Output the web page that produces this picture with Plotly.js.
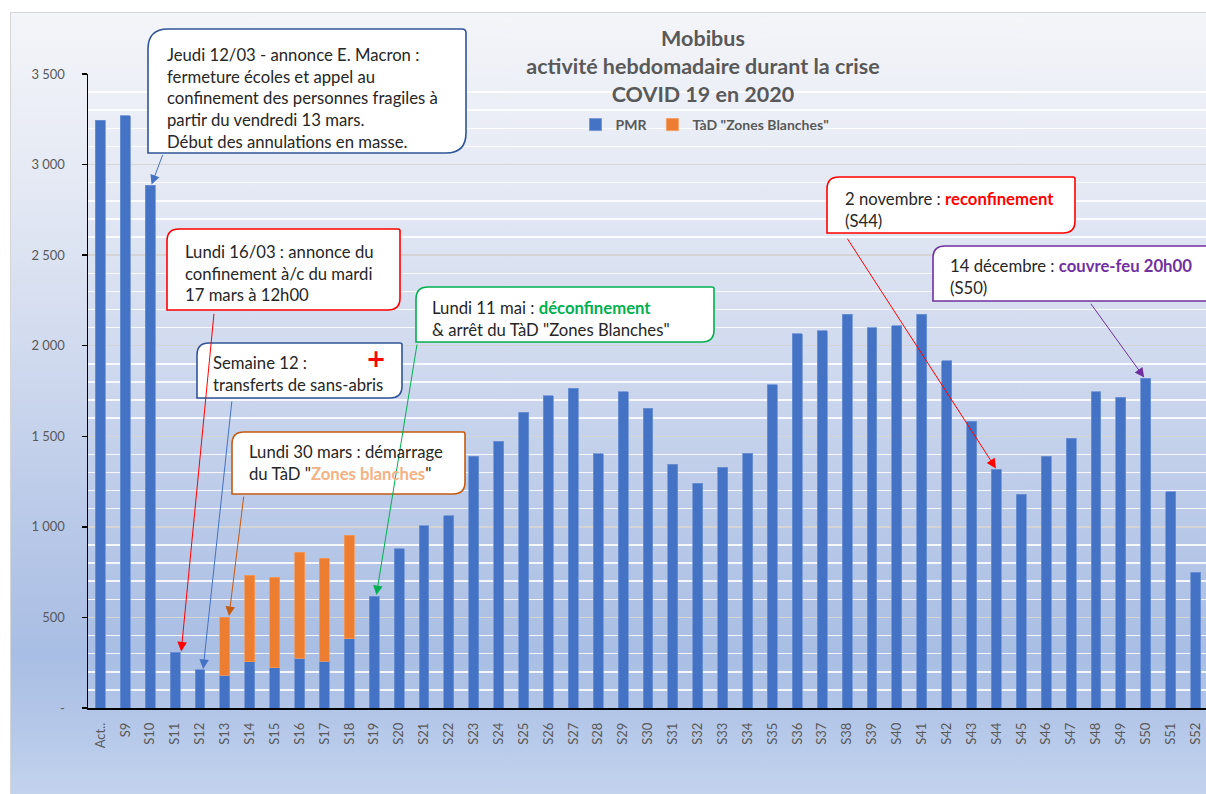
<!DOCTYPE html>
<html>
<head>
<meta charset="utf-8">
<script src="https://cdn.plot.ly/plotly-3.0.1.min.js"></script>
<style>
  html, body { margin:0; padding:0; background:#ffffff; }
  #wrap { position:relative; width:1206px; height:794px; overflow:hidden; }
  #bg { position:absolute; left:10px; top:12px; width:1196px; height:782px;
        border-left:1.5px solid #d6d6d6; border-top:1.5px solid #d6d6d6;
        background:linear-gradient(to bottom, #f4f5f9 0%, #e4e9f4 22%, #cfd9ee 45%, #b9c9e8 65%, #a9bee4 82%, #b3c6e8 90%, #c3d3ee 100%); }
  #chart { position:absolute; left:0; top:0; width:1206px; height:794px; }
</style>
</head>
<body>
<div id="wrap"><div id="bg"></div><div id="chart"></div></div>
<script>
// ---- Data ----
const categories = ['Act..','S9','S10','S11','S12','S13','S14','S15','S16','S17','S18','S19','S20','S21','S22','S23','S24','S25','S26','S27','S28','S29','S30','S31','S32','S33','S34','S35','S36','S37','S38','S39','S40','S41','S42','S43','S44','S45','S46','S47','S48','S49','S50','S51','S52'];
const pmr = [3246,3270,2885,307,210,182,254,223,276,259,381,618,878,1005,1060,1391,1474,1632,1724,1765,1404,1746,1656,1347,1240,1330,1406,1785,2066,2084,2175,2100,2109,2175,1916,1584,1318,1181,1391,1489,1746,1715,1820,1194,749];
const tad = [null,null,null,null,null,320,480,500,585,569,574,null,null,null,null,null,null,null,null,null,null,null,null,null,null,null,null,null,null,null,null,null,null,null,null,null,null,null,null,null,null,null,null,null,null];
const yTickVals = [0,500,1000,1500,2000,2500,3000,3500];
const yTickText = ['-','500','1 000','1 500','2 000','2 500','3 000','3 500'];
const seriesNames = ['PMR','TàD "Zones Blanches"'];

// ---- Layout helpers (pixel -> paper) ----
const L = 88, T = 74, PW = 1118, PH = 634;
const X = px => (px - L) / PW;
const Y = py => (T + PH - py) / PH;
function boxPath(x0,y0,x1,y1,r){
  return `M${X(x0+r[0])},${Y(y0)} L${X(x1-r[1])},${Y(y0)} Q${X(x1)},${Y(y0)} ${X(x1)},${Y(y0+r[1])} ` +
         `L${X(x1)},${Y(y1-r[2])} Q${X(x1)},${Y(y1)} ${X(x1-r[2])},${Y(y1)} ` +
         `L${X(x0+r[3])},${Y(y1)} Q${X(x0)},${Y(y1)} ${X(x0)},${Y(y1-r[3])} ` +
         `L${X(x0)},${Y(y0+r[0])} Q${X(x0)},${Y(y0)} ${X(x0+r[0])},${Y(y0)} Z`;
}
function box(x0,y0,x1,y1,color,r){
  return {type:'path', xref:'paper', yref:'paper', path:boxPath(x0,y0,x1,y1,r),
          fillcolor:'#ffffff', line:{color:color, width:1.6}, layer:'above'};
}
const FONT = 'Lato, "Open Sans", sans-serif';
const TXT = '#262626';
function label(px, pyMid, text, size){
  return {xref:'paper', yref:'paper', x:X(px), y:Y(pyMid), xanchor:'left', yanchor:'middle',
          align:'left', showarrow:false, text:text, font:{family:FONT, size:size||16.7, color:TXT}};
}
function arrow(i, yval, ax, ay, color, xshift){
  return {x:categories[i], y:yval, xref:'x', yref:'y', text:'', showarrow:true,
          arrowhead:2, arrowsize:1.9, arrowwidth:1, arrowcolor:color, ax:ax, ay:ay,
          xshift:xshift||0, standoff:1};
}

const BLUE = '#2f5597', RED = '#ff0000', ORANGE = '#c55a11', GREEN = '#00b050', PURPLE = '#7030a0';

const shapes = [
  box(148,29,466,153,BLUE,[20,4,20,0]),
  box(167,229,400,310,RED,[12,2,12,0]),
  box(197,343,402,398,BLUE,[12,2,12,0]),
  box(232,432,465,494,ORANGE,[12,2,12,0]),
  box(416,287,714,342,GREEN,[12,2,12,0]),
  box(827,177,1075,233,RED,[12,2,12,0]),
  box(933,246,1220,301,PURPLE,[12,2,12,0])
];

const annotations = [
  arrow(2, pmr[2], 12, -32, '#4472c4', 1),
  arrow(3, pmr[3], 33, -340, RED, 6),
  arrow(4, pmr[4], 29, -270, '#4472c4', 3),
  arrow(5, pmr[5]+tad[5], 15, -122, ORANGE, 4),
  arrow(11, pmr[11], 41, -253, GREEN, 2),
  arrow(36, pmr[36], -150, -232, RED, 0),
  arrow(42, pmr[42], -55, -76, PURPLE, -1),
  label(165, 98, 'Jeudi 12/03 - annonce E. Macron :<br>fermeture écoles et appel au<br>confinement des personnes fragiles à<br>partir du vendredi 13 mars.<br>Début des annulations en masse.'),
  label(183, 273, 'Lundi 16/03 : annonce du<br>confinement à/c du mardi<br>17 mars à 12h00'),
  label(211, 374, 'Semaine 12 :<br>transferts de sans-abris'),
  {xref:'paper', yref:'paper', x:X(376), y:Y(359), xanchor:'center', yanchor:'middle', showarrow:false,
   text:'<b>+</b>', font:{family:'"DejaVu Sans", sans-serif', size:24, color:RED}},
  label(247, 463, 'Lundi 30 mars : démarrage<br>du TàD "<b><span style="color:#f4b183">Zones blanches</span></b>"'),
  label(430, 319, 'Lundi 11 mai : <b><span style="color:#00b050">déconfinement</span></b><br>&amp; arrêt du TàD "Zones Blanches"'),
  label(843, 210, '2 novembre : <b><span style="color:#ff0000">reconfinement</span></b><br>(S44)'),
  label(948, 277, '14 décembre : <b><span style="color:#7030a0">couvre-feu 20h00</span></b><br>(S50)')
];

const traces = [
  {type:'bar', name:seriesNames[0], x:categories, y:pmr, width:0.4,
   marker:{color:'#4472c4', line:{color:'#6f93d6', width:0.8}}},
  {type:'bar', name:seriesNames[1], x:categories, y:tad, width:0.4,
   marker:{color:'#ed7d31', line:{color:'#f29a5e', width:0.8}}}
];

const layout = {
  width:1206, height:794,
  margin:{l:L, r:0, t:T, b:794-T-PH, pad:0},
  paper_bgcolor:'rgba(0,0,0,0)', plot_bgcolor:'rgba(0,0,0,0)',
  barmode:'stack', bargap:0.6,
  font:{family:FONT, color:'#595959', size:13},
  title:{text:'<b>Mobibus<br>activité hebdomadaire durant la crise<br>COVID 19 en 2020</b>',
         xref:'container', yref:'container', x:703/1206, y:1-46/794, xanchor:'center', yanchor:'middle',
         font:{family:FONT, size:21.5, color:'#595959'}},
  showlegend:true,
  legend:{orientation:'h', x:X(705), y:Y(125), xanchor:'center', yanchor:'middle',
          bgcolor:'rgba(0,0,0,0)', font:{family:FONT, size:14, color:'#595959', weight:'bold'},
          itemwidth:30, traceorder:'normal'},
  xaxis:{type:'category', range:[-0.5, 44.42], showline:true, linecolor:'#000000', linewidth:1.5,
         ticks:'', tickangle:-90, ticklabelstandoff:8, showgrid:false, zeroline:false,
         tickfont:{family:FONT, size:13, color:'#595959'}, fixedrange:true},
  yaxis:{range:[0,3500], tickmode:'array', tickvals:yTickVals, ticktext:yTickText,
         showline:true, linecolor:'#000000', linewidth:1.5, ticks:'outside', ticklen:5,
         tickcolor:'#000000', tickwidth:1.5, ticklabelstandoff:14,
         showgrid:true, gridcolor:'#d4d4d4', gridwidth:1.5, zeroline:false,
         minor:{tickmode:'linear', tick0:0, dtick:100, showgrid:true, gridcolor:'rgba(255,255,255,0.85)', gridwidth:1.5, ticks:''},
         tickfont:{family:FONT, size:13, color:'#595959'}, fixedrange:true},
  shapes:shapes,
  annotations:annotations
};

Plotly.newPlot('chart', traces, layout, {displayModeBar:false, staticPlot:true});
</script>
</body>
</html>
